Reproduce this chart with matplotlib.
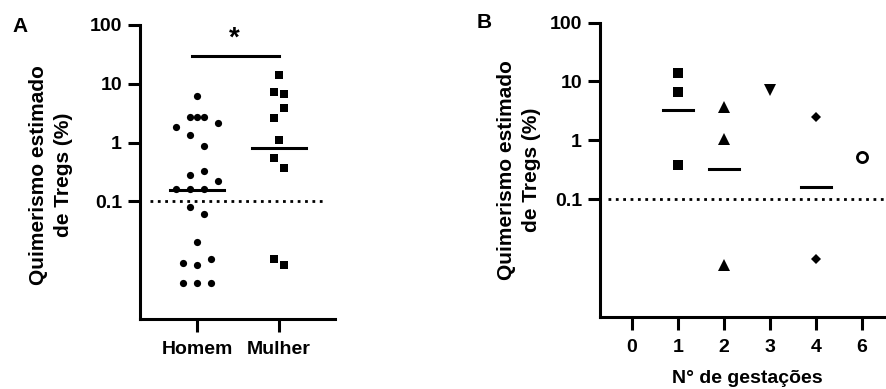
import numpy as np
import matplotlib
matplotlib.use("Agg")
import matplotlib.pyplot as plt

plt.rcParams['font.family'] = ['Liberation Sans', 'DejaVu Sans']
plt.rcParams['font.weight'] = 'bold'

# panel A data
grupos_a = ["Homem", "Mulher"]
homem = [6.1, 1.87, 2.75, 2.75, 2.75, 2.16, 1.33, 0.89, 0.335, 0.279, 0.221,
         0.164, 0.164, 0.164, 0.080, 0.062, 0.0204, 0.0091, 0.0083, 0.0104,
         0.0041, 0.0041, 0.0041]
homem_jit = [0, -3, -1, 0, 1, 3, -1, 1, 1, -1, 3, -3, -1, 1, -1, 1, 0, -2, 0, 2, -2, 0, 2]
mulher = [14.2, 7.2, 6.7, 3.87, 2.62, 1.12, 0.55, 0.37, 0.0104, 0.0083]
mulher_jit = [0, -1, 1, 1, -1, 0, -1, 1, -1, 1]
linha_a = [0.158, 0.81]

# panel B data
gest_labels = ["0", "1", "2", "3", "4", "6"]
g1 = [14.0, 6.6, 0.377]
g2 = [3.67, 1.07, 0.0076]
g3 = [7.06]
g4 = [2.48, 0.0096]
g6 = [0.53]
linha_b = {1: 3.31, 2: 0.33, 4: 0.16}

LW = 2.2
fig = plt.figure(figsize=(8.87, 3.89), dpi=100)


def style(ax):
    ax.set_yscale('log')
    ax.set_ylim(0.001, 100)
    ax.set_yticks([0.1, 1, 10, 100])
    ax.set_yticklabels(['0.1', '1', '10', '100'])
    ax.yaxis.set_minor_locator(matplotlib.ticker.NullLocator())
    for s in ['top', 'right']:
        ax.spines[s].set_visible(False)
    for s in ['left', 'bottom']:
        ax.spines[s].set_linewidth(LW)
    ax.tick_params(width=LW, length=9, labelsize=14)
    ax.tick_params(axis='y', pad=4)
    ax.tick_params(axis='x', pad=7)
    ax.set_ylabel("Quimerismo estimado\nde Tregs (%)", fontsize=15,
                  fontweight='bold', va='center', linespacing=1.45)


# ---- A ----
axA = fig.add_axes([140/887, 70/389, 195/887, 294/389])
style(axA)
axA.set_xlim(-0.695, 1.683)
axA.set_xticks([0, 1])
axA.set_xticklabels(grupos_a)
axA.yaxis.set_label_coords(-0.456, 0.49)

axA.plot(0 + np.array(homem_jit) * 0.085, homem, 'o', color='black', ms=5.2, mew=0)
axA.plot(1 + np.array(mulher_jit) * 0.056, mulher, 's', color='black', ms=5.2, mew=0)
for i, v in enumerate(linha_a):
    axA.plot([i - 0.33, i + 0.33], [v, v], color='black', lw=LW)
axA.plot([-0.57, 1.56], [0.1, 0.1], color='black', lw=2, ls=':')
axA.plot([-0.065, 1.0], [30, 30], color='black', lw=LW)
axA.text(0.46, 58, '*', fontsize=20, fontweight='bold', ha='center', va='center')
fig.text(20/887, 1 - 26/389, 'A', fontsize=15, fontweight='bold', ha='center', va='center')

# ---- B ----
axB = fig.add_axes([600/887, 72.3/389, 287/887, 294/389])
style(axB)
axB.set_xlim(-0.688, 5.54)
axB.set_xticks(range(len(gest_labels)))
axB.set_xticklabels(gest_labels)
axB.yaxis.set_label_coords(-0.282, 0.5)
axB.set_xlabel("N° de gestações", fontsize=14, fontweight='bold', va='center')
axB.xaxis.set_label_coords(0.514, -0.21)

axB.plot([1] * len(g1), g1, 's', color='black', ms=7.8, mew=0)
axB.plot([2] * len(g2), g2, '^', color='black', ms=8.3, mew=0)
axB.plot([3] * len(g3), g3, 'v', color='black', ms=8.3, mew=0)
axB.plot([4] * len(g4), g4, 'D', color='black', ms=5.4, mew=0)
axB.plot([5] * len(g6), g6, 'o', mfc='white', mec='black', ms=7.3, mew=2)
for k, v in linha_b.items():
    axB.plot([k - 0.33, k + 0.33], [v, v], color='black', lw=LW)
axB.plot([-0.51, 6], [0.1, 0.1], color='black', lw=2, ls=':')
fig.text(484/887, 1 - 22/389, 'B', fontsize=15, fontweight='bold', ha='center', va='center')

fig.savefig('out.png', dpi=100)
